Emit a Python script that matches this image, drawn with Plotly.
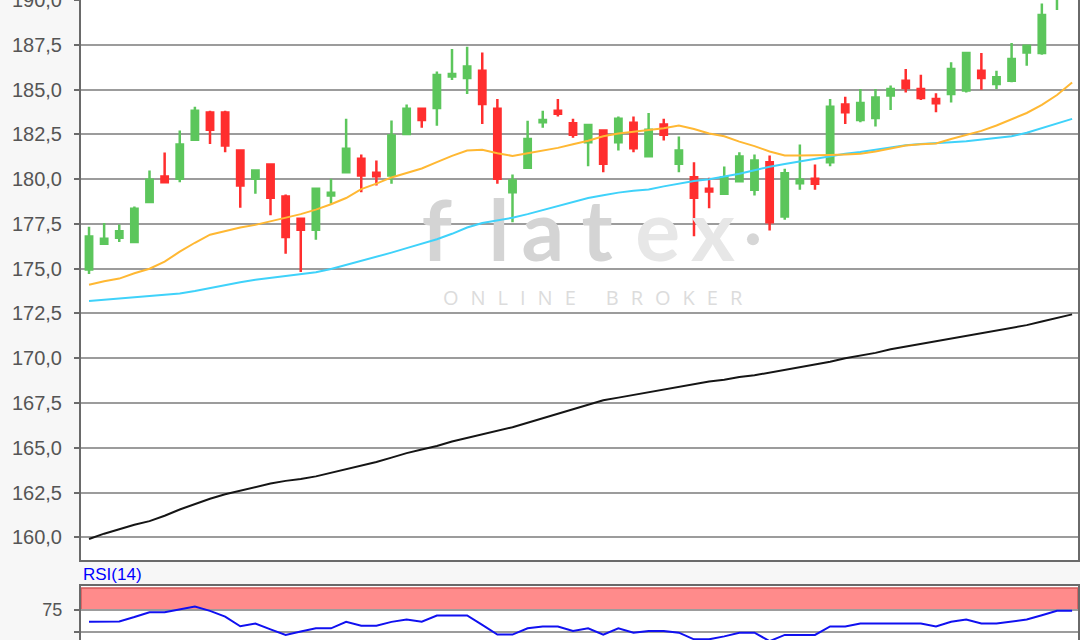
import plotly.graph_objects as go

# ---------------- data ----------------
idx = list(range(66))

opens = [174.95, 176.40, 176.73, 176.49, 178.72, 180.15, 180.02, 182.20, 183.72, 183.72,
         181.60, 180.02, 180.82, 179.04, 177.79, 177.18, 179.09, 180.39, 181.14, 180.36,
         180.21, 182.53, 183.93, 183.98, 185.73, 185.66, 186.06, 183.93, 179.27, 180.64,
         183.18, 183.83, 183.12, 182.06, 182.72, 182.06, 183.15, 181.28, 183.05, 180.86,
         180.11, 179.46, 179.19, 179.89, 179.41, 180.95, 177.92, 179.78, 180.02, 180.95,
         184.17, 183.31, 183.42, 184.67, 185.50, 185.04, 184.48, 184.76, 184.95, 186.06,
         185.32, 185.50, 187.08, 187.05, 190.30, 191.50]
highs = [177.35, 177.55, 177.47, 178.48, 180.49, 181.49, 182.72, 184.05, 183.83, 183.83,
         181.65, 180.52, 180.85, 179.15, 177.85, 179.50, 180.02, 183.37, 181.38, 181.04,
         183.28, 184.17, 183.97, 186.02, 187.27, 187.40, 187.08, 184.48, 180.26, 183.27,
         183.83, 184.48, 183.37, 183.05, 182.76, 183.50, 183.50, 183.70, 183.37, 182.38,
         180.95, 180.08, 180.71, 181.51, 181.38, 181.32, 180.58, 181.94, 180.82, 184.48,
         184.61, 185.04, 185.04, 185.23, 186.16, 185.84, 184.80, 186.53, 187.07, 187.05,
         186.06, 187.61, 187.50, 189.82, 191.80, 192.30]
lows = [174.70, 176.35, 176.49, 176.45, 178.70, 179.80, 179.83, 182.15, 181.97, 181.51,
        178.40, 179.19, 177.98, 175.84, 174.81, 176.62, 178.63, 180.35, 179.27, 179.65,
        179.74, 182.50, 182.87, 182.99, 185.54, 184.76, 183.09, 179.74, 177.60, 180.60,
        182.87, 183.50, 182.31, 180.73, 180.39, 181.60, 181.51, 181.25, 182.16, 180.39,
        176.82, 178.38, 179.15, 179.85, 179.09, 177.14, 177.74, 179.41, 179.41, 180.73,
        183.09, 183.18, 182.94, 183.87, 184.85, 184.43, 183.74, 184.29, 184.85, 184.99,
        185.04, 185.41, 186.34, 186.95, 189.45, 190.60]
closes = [176.80, 176.68, 177.10, 178.35, 179.97, 179.83, 181.94, 183.83, 182.76, 181.88,
          179.65, 180.49, 178.96, 176.77, 177.18, 179.46, 179.24, 181.70, 180.21, 180.17,
          182.44, 183.93, 183.31, 185.82, 185.88, 186.29, 184.20, 180.02, 179.93, 182.25,
          183.31, 183.65, 182.49, 183.03, 180.86, 183.37, 181.73, 182.76, 182.49, 181.60,
          178.96, 179.31, 180.11, 181.27, 181.04, 177.60, 180.33, 179.97, 179.74, 184.05,
          183.74, 184.26, 184.57, 185.04, 185.10, 184.54, 184.24, 186.16, 187.05, 185.66,
          185.69, 186.71, 187.46, 189.17, 191.40, 192.00]

ma_short = [174.10, 174.30, 174.45, 174.75, 175.00, 175.40, 175.95, 176.45, 176.90, 177.10,
            177.30, 177.45, 177.65, 177.85, 178.05, 178.30, 178.60, 178.95, 179.45, 179.75,
            180.10, 180.35, 180.60, 180.95, 181.30, 181.60, 181.65, 181.45, 181.30, 181.45,
            181.60, 181.75, 181.95, 182.15, 182.40, 182.55, 182.65, 182.75, 182.85, 183.00,
            182.80, 182.55, 182.40, 182.10, 181.85, 181.55, 181.32, 181.32, 181.32, 181.35,
            181.38, 181.42, 181.55, 181.70, 181.88, 181.95, 182.00, 182.25, 182.47, 182.70,
            183.00, 183.35, 183.70, 184.15, 184.70, 185.40]
ma_mid = [173.20, 173.27, 173.33, 173.40, 173.45, 173.55, 173.62, 173.75, 173.92, 174.10,
          174.25, 174.38, 174.48, 174.58, 174.70, 174.80, 174.98, 175.20, 175.45, 175.65,
          175.90, 176.15, 176.40, 176.65, 176.95, 177.30, 177.55, 177.70, 177.85, 178.05,
          178.28, 178.50, 178.75, 178.95, 179.10, 179.25, 179.35, 179.42, 179.60, 179.75,
          179.90, 180.00, 180.15, 180.30, 180.50, 180.70, 180.85, 181.00, 181.15, 181.27,
          181.42, 181.52, 181.65, 181.80, 181.90, 181.97, 182.00, 182.07, 182.12, 182.20,
          182.28, 182.40, 182.60, 182.85, 183.10, 183.37]
ma_long = [159.90, 160.20, 160.45, 160.70, 160.90, 161.20, 161.55, 161.85, 162.15, 162.40,
           162.60, 162.80, 163.00, 163.15, 163.25, 163.40, 163.60, 163.80, 164.00, 164.20,
           164.45, 164.70, 164.90, 165.10, 165.35, 165.55, 165.75, 165.95, 166.15, 166.40,
           166.65, 166.90, 167.15, 167.40, 167.65, 167.80, 167.95, 168.10, 168.25, 168.40,
           168.55, 168.70, 168.80, 168.95, 169.05, 169.20, 169.35, 169.50, 169.65, 169.80,
           170.00, 170.15, 170.30, 170.50, 170.65, 170.80, 170.95, 171.10, 171.25, 171.40,
           171.55, 171.70, 171.85, 172.05, 172.25, 172.45]

rsi = [61.7, 61.7, 62.0, 67.0, 72.5, 72.5, 75.5, 79.0, 74.0, 67.5,
       56.5, 59.6, 53.0, 46.7, 50.5, 54.2, 54.2, 61.5, 57.1, 57.1,
       61.5, 64.2, 61.7, 68.75, 68.75, 68.75, 58.0, 47.1, 47.1, 54.2,
       56.25, 56.25, 51.25, 54.2, 47.1, 54.2, 49.2, 51.25, 51.25, 49.2,
       41.7, 41.7, 45.0, 49.2, 49.2, 39.6, 46.7, 46.7, 46.7, 56.25,
       56.25, 59.6, 59.6, 59.6, 59.6, 59.6, 56.25, 61.7, 64.2, 59.6,
       59.6, 62.0, 64.2, 69.0, 74.2, 74.2]

price_ticks = [160.0, 162.5, 165.0, 167.5, 170.0, 172.5, 175.0, 177.5, 180.0, 182.5, 185.0, 187.5, 190.0]
rsi_ticks = [25, 50, 75]
rsi_tick_text = ["25", "", "75"]

# watermark text
wm_letters = ["f", "l", "a", "t", "e", "x"]
wm_sub = "\u2002\u200a".join(list("ONLINE")) + "\u2002\u2002\u2002" + "\u2002\u200a".join(list("BROKER"))

# ---------------- styles ----------------
GREEN = "#5cc65c"
RED = "#ff2e2e"
ORANGE = "#ffb833"
CYAN = "#3fd2fa"
BLACK = "#151515"
GRID = "#9c9c9c"
AXIS = "#6a6a6a"
LABEL = "#555555"
FONT = "Liberation Sans, Arial, sans-serif"

fig = go.Figure()

# watermark (drawn first so the lines sit on top)
fig.add_trace(go.Scatter(
    x=[23.0, 27.1, 30.0, 33.6, 37.6, 41.25],
    y=[176.6] * 6,
    mode="text", text=wm_letters,
    textfont=dict(family="Lato, Noto Sans, sans-serif", size=84, weight="bold",
                  color=["#d4d4d4", "#d4d4d4", "#d4d4d4", "#d4d4d4", "#e7e7e7", "#e7e7e7"]),
    hoverinfo="skip", showlegend=False, xaxis="x", yaxis="y"))
fig.add_trace(go.Scatter(
    x=[43.9], y=[176.65], mode="markers",
    marker=dict(size=12, color="#d6d6d6", line=dict(width=0)),
    hoverinfo="skip", showlegend=False, xaxis="x", yaxis="y"))
fig.add_trace(go.Scatter(
    x=[33.3], y=[173.25], mode="text", text=[wm_sub],
    textfont=dict(family="Open Sans, sans-serif", size=20, color="#dcdcdc"),
    hoverinfo="skip", showlegend=False, xaxis="x", yaxis="y"))

fig.add_trace(go.Candlestick(
    x=idx, open=opens, high=highs, low=lows, close=closes,
    increasing=dict(line=dict(color=GREEN, width=2.5), fillcolor=GREEN),
    decreasing=dict(line=dict(color=RED, width=2.5), fillcolor=RED),
    whiskerwidth=0, showlegend=False, xaxis="x", yaxis="y"))

fig.add_trace(go.Scatter(x=idx, y=ma_long, mode="lines", line=dict(color=BLACK, width=2),
                         showlegend=False, xaxis="x", yaxis="y"))
fig.add_trace(go.Scatter(x=idx, y=ma_mid, mode="lines", line=dict(color=CYAN, width=2),
                         showlegend=False, xaxis="x", yaxis="y"))
fig.add_trace(go.Scatter(x=idx, y=ma_short, mode="lines", line=dict(color=ORANGE, width=2),
                         showlegend=False, xaxis="x", yaxis="y"))

fig.add_trace(go.Scatter(x=idx, y=rsi, mode="lines", line=dict(color="#1010f0", width=2),
                         showlegend=False, xaxis="x2", yaxis="y2"))

H = 640.0
main_bottom = (H - 560) / H
rsi_top = (H - 586) / H

fig.add_shape(type="rect", xref="x2 domain", yref="y2", x0=0, x1=1, y0=75, y1=100,
              fillcolor="rgba(255,110,110,0.8)", line=dict(color="#d25a5a", width=1.5),
              layer="below")

fig.add_annotation(text="RSI(14)", xref="paper", yref="paper", x=0, y=(H - 574) / H,
                   xanchor="left", yanchor="middle", showarrow=False,
                   font=dict(family=FONT, size=17, color="#0000ff"))

xr = [-0.53, 65.39]
fig.update_layout(
    width=1080, height=640,
    margin=dict(l=81, r=2, t=0, b=0),
    paper_bgcolor="#f7f7f7", plot_bgcolor="white",
    separators=",.",
    showlegend=False,
    boxgap=0.4,
    xaxis=dict(domain=[0, 1], range=xr, anchor="y", showticklabels=False, showgrid=False,
               zeroline=False, showline=True, linecolor=AXIS, linewidth=2, mirror=False,
               ticks="", rangeslider=dict(visible=False), fixedrange=True),
    yaxis=dict(domain=[main_bottom, 1], range=[158.73, 190.01], tickvals=price_ticks,
               tickformat=".1f", showgrid=True, gridcolor=GRID, gridwidth=2, zeroline=False,
               showline=True, linecolor=AXIS, linewidth=2, mirror=True,
               ticks="outside", ticklen=5, tickwidth=2, tickcolor=AXIS,
               tickfont=dict(family=FONT, size=20, color=LABEL), ticklabelstandoff=8,
               ticklabeloverflow="allow", automargin=False, fixedrange=True),
    xaxis2=dict(domain=[0, 1], range=xr, anchor="y2", side="top", showticklabels=False,
                showgrid=False, zeroline=False, showline=True, linecolor=AXIS, linewidth=2,
                ticks="", fixedrange=True),
    yaxis2=dict(domain=[0, rsi_top], range=[40.9, 102.3], tickvals=rsi_ticks,
                ticktext=rsi_tick_text, showgrid=True, gridcolor=GRID, gridwidth=2,
                zeroline=False, showline=True, linecolor=AXIS, linewidth=2, mirror=True,
                ticks="outside", ticklen=5, tickwidth=2, tickcolor=AXIS,
                tickfont=dict(family=FONT, size=18, color=LABEL), ticklabelstandoff=8,
                ticklabeloverflow="allow", automargin=False, fixedrange=True),
)

fig.write_html("out.html", config={"displayModeBar": False},
               post_script="document.body.style.margin='0px';document.body.style.overflow='hidden';")
